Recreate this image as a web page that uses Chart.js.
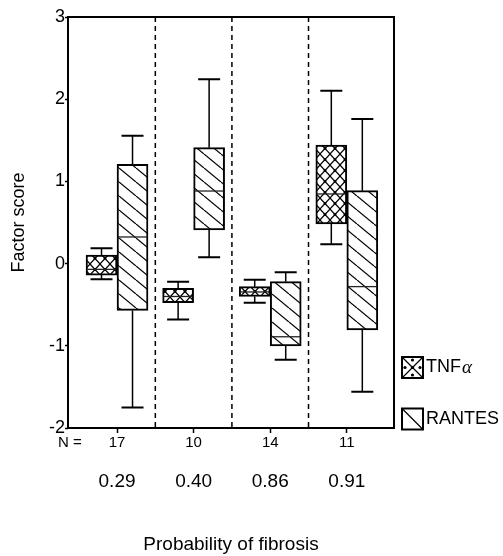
<!DOCTYPE html>
<html>
<head>
<meta charset="utf-8">
<script src="https://cdn.jsdelivr.net/npm/chart.js@4.4.1/dist/chart.umd.min.js"></script>
<style>
html, body { margin: 0; padding: 0; background: #fff; }
</style>
</head>
<body>
<canvas id="boxChart" width="503" height="556"></canvas>
<script>
//chart data
var groupN = ['17', '10', '14', '11'];
var fibrosisProb = ['0.29', '0.40', '0.86', '0.91'];
var seriesNames = ['TNF\u03b1', 'RANTES'];
var yTicks = [-2, -1, 0, 1, 2, 3];
// each box: [whisker low, Q1, median, Q3, whisker high]
var tnfBoxes = [
    [-0.19, -0.14, -0.07, 0.105, 0.186],
    [-0.68, -0.476, -0.40, -0.30, -0.22],
    [-0.475, -0.40, -0.345, -0.281, -0.196],
    [0.235, 0.482, 0.847, 1.443, 2.103]
];
var rantesBoxes = [
    [-1.75, -0.57, 0.324, 1.208, 1.556],
    [0.077, 0.409, 0.883, 1.41, 2.242],
    [-1.17, -1.0, -0.89, -0.22, -0.106],
    [-1.558, -0.808, -0.28, 0.887, 1.759]
];

var FONT = "'Liberation Sans', Arial, sans-serif";
var canvas = document.getElementById('boxChart');
var mainCtx = canvas.getContext('2d');

//fill patterns like the old SPSS hatching
function makeHatch(w, h, cross) {
    var c = document.createElement('canvas');
    c.width = w;
    c.height = h;
    var g = c.getContext('2d');
    g.fillStyle = '#fff';
    g.fillRect(0, 0, w, h);
    g.strokeStyle = '#000';
    g.lineWidth = 1.2;
    for (var k = -1; k <= 1; k++) {
        g.beginPath();
        g.moveTo(k * w, 0);
        g.lineTo(k * w + w, h);
        g.stroke();
        if (cross) {
            g.beginPath();
            g.moveTo(k * w + w, 0);
            g.lineTo(k * w, h);
            g.stroke();
        }
    }
    if (cross) {
        g.fillStyle = '#000';
        g.beginPath();
        g.arc(w / 2, h / 2, 1.4, 0, Math.PI * 2);
        g.fill();
    }
    return mainCtx.createPattern(c, 'repeat');
}
var tnfFill = makeHatch(10, 11, true);
var rantesFill = makeHatch(17, 14, false);

function boxData(list) {
    return list.map(function (b, i) { return { x: i + 1, y: [b[1], b[3]] }; });
}
function tickList(values) {
    return values.map(function (v) { return { value: v }; });
}
var groupPos = groupN.map(function (n, i) { return i + 1; });

var boxPlugin = {
    id: 'boxWhiskers',
    beforeDatasetsDraw: function (chart) {
        var ctx = chart.ctx, a = chart.chartArea, xs = chart.scales.x;
        ctx.save();
        ctx.strokeStyle = '#000';
        ctx.lineWidth = 1.5;
        ctx.setLineDash([5, 4]);
        for (var i = 1; i < groupN.length; i++) {
            var px = xs.getPixelForValue(i + 0.5);
            ctx.beginPath();
            ctx.moveTo(px, a.top);
            ctx.lineTo(px, a.bottom);
            ctx.stroke();
        }
        ctx.restore();
    },
    afterDatasetsDraw: function (chart) {
        var ctx = chart.ctx, ys = chart.scales.y, a = chart.chartArea;
        ctx.save();
        ctx.strokeStyle = '#000';
        chart.data.datasets.forEach(function (ds, di) {
            var meta = chart.getDatasetMeta(di);
            meta.data.forEach(function (bar, i) {
                var s = ds.stats[i];
                var cx = bar.x, half = bar.width / 2, cap = 11;
                var yLo = ys.getPixelForValue(s[0]);
                var yQ1 = ys.getPixelForValue(s[1]);
                var yMed = ys.getPixelForValue(s[2]);
                var yQ3 = ys.getPixelForValue(s[3]);
                var yHi = ys.getPixelForValue(s[4]);
                ctx.lineWidth = 1.5;
                ctx.beginPath();
                ctx.moveTo(cx, yQ3); ctx.lineTo(cx, yHi);
                ctx.moveTo(cx, yQ1); ctx.lineTo(cx, yLo);
                ctx.stroke();
                ctx.lineWidth = 2;
                ctx.beginPath();
                ctx.moveTo(cx - cap, yHi); ctx.lineTo(cx + cap, yHi);
                ctx.moveTo(cx - cap, yLo); ctx.lineTo(cx + cap, yLo);
                ctx.stroke();
                ctx.lineWidth = 1.3;
                ctx.strokeStyle = '#222';
                ctx.beginPath();
                ctx.moveTo(cx - half + 1, yMed); ctx.lineTo(cx + half - 1, yMed);
                ctx.stroke();
                ctx.strokeStyle = '#000';
            });
        });
        //plot frame
        ctx.lineWidth = 2;
        ctx.strokeRect(a.left, a.top, a.right - a.left, a.bottom - a.top);
        ctx.restore();
    },
    afterDraw: function (chart) {
        var ctx = chart.ctx;
        ctx.save();
        ctx.fillStyle = '#000';
        ctx.textBaseline = 'middle';
        ctx.textAlign = 'left';
        ctx.font = '15px ' + FONT;
        ctx.fillText('N =', 58, 443);
        //legend
        chart.data.datasets.forEach(function (ds, di) {
            var bx = 402, by = 357 + di * 51.5, sz = 21;
            ctx.fillStyle = '#fff';
            ctx.fillRect(bx, by, sz, sz);
            ctx.strokeStyle = '#000';
            ctx.lineWidth = 1.2;
            ctx.beginPath();
            ctx.moveTo(bx, by); ctx.lineTo(bx + sz, by + sz);
            if (di === 0) {
                ctx.moveTo(bx + sz, by); ctx.lineTo(bx, by + sz);
            }
            ctx.stroke();
            if (di === 0) {
                ctx.fillStyle = '#000';
                [[bx + sz / 2, by + 3], [bx + sz / 2, by + sz - 3], [bx + 3, by + sz / 2], [bx + sz - 3, by + sz / 2], [bx + sz / 2, by + sz / 2]].forEach(function (p) {
                    ctx.beginPath();
                    ctx.arc(p[0], p[1], 1.6, 0, Math.PI * 2);
                    ctx.fill();
                });
            }
            ctx.lineWidth = 2;
            ctx.strokeRect(bx, by, sz, sz);
            ctx.fillStyle = '#000';
            ctx.font = '18px ' + FONT;
            var label = ds.label;
            if (label.charAt(label.length - 1) === '\u03b1') {
                var base = label.slice(0, -1);
                ctx.fillText(base, bx + sz + 3, by + sz / 2);
                var w = ctx.measureText(base).width;
                ctx.font = "italic 19px 'Liberation Serif', serif";
                ctx.fillText('\u03b1', bx + sz + 3 + w + 1, by + sz / 2);
            } else {
                ctx.fillText(label, bx + sz + 3, by + sz / 2);
            }
        });
        ctx.restore();
    }
};

var xMin = 0.36, xMax = 4.616;

new Chart(canvas, {
    type: 'bar',
    data: {
        datasets: [
            {
                label: seriesNames[0],
                data: boxData(tnfBoxes),
                stats: tnfBoxes,
                backgroundColor: tnfFill,
                borderColor: '#000',
                borderWidth: 2,
                borderSkipped: false,
                barThickness: 31
            },
            {
                label: seriesNames[1],
                data: boxData(rantesBoxes),
                stats: rantesBoxes,
                backgroundColor: rantesFill,
                borderColor: '#000',
                borderWidth: 2,
                borderSkipped: false,
                barThickness: 31
            }
        ]
    },
    options: {
        responsive: false,
        animation: false,
        layout: { padding: { left: 0, top: 17, right: 109, bottom: 0 } },
        plugins: {
            legend: { display: false },
            tooltip: { enabled: false }
        },
        scales: {
            x: {
                type: 'linear',
                position: 'bottom',
                min: xMin,
                max: xMax,
                offset: false,
                bounds: 'data',
                afterBuildTicks: function (s) { s.ticks = tickList(groupPos); },
                afterFit: function (s) { s.height = 24; },
                grid: { offset: false, drawOnChartArea: false, drawTicks: true, tickLength: 5, tickColor: '#000', tickWidth: 1.5 },
                border: { display: false },
                ticks: {
                    autoSkip: false,
                    maxRotation: 0,
                    padding: 1,
                    color: '#000',
                    font: { family: FONT, size: 15 },
                    callback: function (v) { return groupN[v - 1]; }
                }
            },
            x2: {
                type: 'linear',
                position: 'bottom',
                min: xMin,
                max: xMax,
                offset: false,
                bounds: 'data',
                afterBuildTicks: function (s) { s.ticks = tickList(groupPos); },
                afterFit: function (s) { s.height = 104; },
                grid: { display: false, drawTicks: false, offset: false },
                border: { display: false },
                ticks: {
                    autoSkip: false,
                    maxRotation: 0,
                    padding: 18,
                    color: '#000',
                    font: { family: FONT, size: 19 },
                    callback: function (v) { return fibrosisProb[v - 1]; }
                },
                title: {
                    display: true,
                    text: 'Probability of fibrosis',
                    color: '#000',
                    font: { family: FONT, size: 19 },
                    padding: { top: 0, bottom: 0 }
                }
            },
            y: {
                min: -2,
                max: 3,
                bounds: 'data',
                afterBuildTicks: function (s) { s.ticks = tickList(yTicks); },
                afterFit: function (s) { s.width = 68; },
                grid: { drawOnChartArea: false, drawTicks: true, tickLength: 3, tickColor: '#000', tickWidth: 1.5 },
                border: { display: false },
                ticks: {
                    padding: 0,
                    color: '#000',
                    font: { family: FONT, size: 18 }
                },
                title: {
                    display: true,
                    text: 'Factor score',
                    color: '#000',
                    font: { family: FONT, size: 18 },
                    padding: { top: 8, bottom: 0 }
                }
            }
        }
    },
    plugins: [boxPlugin]
});
</script>
</body>
</html>
